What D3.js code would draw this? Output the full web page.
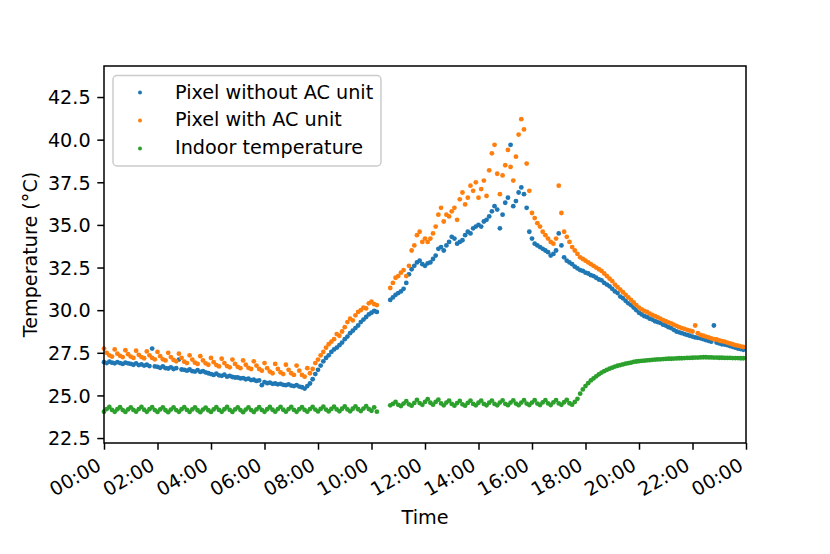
<!DOCTYPE html>
<html>
<head>
<meta charset="utf-8">
<script src="https://cdn.jsdelivr.net/npm/d3@7"></script>
<style>
  body { margin: 0; background: #fff; }
  svg { display: block; font-family: "DejaVu Sans", sans-serif; }
</style>
</head>
<body>
<svg width="830" height="554"></svg>
<script>
// sample times: one reading every 6 minutes (0.1 h) through the day
var stepHours = 0.1;

var hourTicks = [0, 2, 4, 6, 8, 10, 12, 14, 16, 18, 20, 22, 24];
var tickLabels = ["00:00", "02:00", "04:00", "06:00", "08:00", "10:00", "12:00",
                  "14:00", "16:00", "18:00", "20:00", "22:00", "00:00"];
var tempTicks = [22.5, 25.0, 27.5, 30.0, 32.5, 35.0, 37.5, 40.0, 42.5];

var seriesNames = ["Pixel without AC unit", "Pixel with AC unit", "Indoor temperature"];
var seriesColors = ["#1f77b4", "#ff7f0e", "#2ca02c"];

var withoutAC = [
  26.95, 26.90, 26.98, 26.92, 26.88, 26.95, 26.90, 26.85, 26.92, 26.88,
  26.85, 26.80, 26.88, 26.78, 26.82, 26.75, 26.80, 26.72, 27.75, 26.70,
  26.68, 26.62, 26.70, 26.60, 26.58, 26.65, 26.55, 26.60, 27.10, 26.52,
  26.50, 26.45, 26.52, 26.42, 26.40, 26.48, 26.38, 26.42, 26.35, 26.30,
  26.25, 26.20, 26.28, 26.18, 26.15, 26.22, 26.10, 26.15, 26.08, 26.05,
  26.05, 26.00, 26.02, 25.95, 25.98, 25.90, 25.92, 25.85, 25.88, 25.60,
  25.78, 25.72, 25.75, 25.68, 25.70, 25.65, 25.68, 25.62, 25.60, 25.65,
  25.58, 25.55, 25.60, 25.52, 25.48, 25.40, 25.55, 25.70, 25.95, 26.25,
  26.50, 26.75, 27.00, 27.20, 27.35, 27.55, 27.70, 27.80, 27.95, 28.10,
  28.30, 28.45, 28.65, 28.80, 28.95, 29.10, 29.30, 29.45, 29.60, 29.75,
  29.85, 29.95, 29.90, null, null, null, null, 30.60, 30.75, 30.90,
  31.00, 31.10, 31.25, 31.60, 32.10, 32.40, 32.60, 32.80, 32.90, 32.70,
  32.60, 32.75, 32.80, 33.00, 33.20, 33.60, 33.70, 33.50, 33.80, 34.00,
  34.30, 34.20, 33.90, 34.00, 34.10, 34.40, 34.60, 34.50, 34.80, 34.90,
  35.00, 34.90, 35.20, 35.30, 35.50, 35.80, 36.10, 35.90, 34.80, 35.60,
  36.30, 36.60, 39.70, 36.10, 36.40, 36.90, 37.20, 36.80, 36.00, 34.60,
  34.20, 33.90, 33.80, 33.70, 33.60, 33.50, 33.40, 33.20, 33.30, 33.50,
  34.50, 33.80, 33.10, 32.90, 32.80, 32.70, 32.55, 32.45, 32.35, 32.30,
  32.20, 32.15, 32.05, 32.00, 31.90, 31.80, 31.75, 31.60, 31.50, 31.40,
  31.25, 31.10, 31.00, 30.80, 30.70, 30.55, 30.40, 30.30, 30.15, 30.00,
  29.85, 29.75, 29.65, 29.60, 29.50, 29.45, 29.35, 29.30, 29.25, 29.15,
  29.10, 29.00, 28.95, 28.85, 28.75, 28.70, 28.65, 28.60, 28.55, 28.50,
  28.45, 28.40, 28.38, 28.35, 28.30, 28.25, 28.20, 28.15, 29.10, 28.10,
  28.05, 28.00, 27.98, 27.95, 27.90, 27.85, 27.80, 27.75, 27.72, 27.68
];

var withAC = [
  27.75, 27.50, 27.35, 27.28, 27.70, 27.45, 27.32, 27.25, 27.65, 27.42,
  27.28, 27.20, 27.62, 27.38, 27.25, 27.18, 27.58, 27.35, 27.20, 27.12,
  27.55, 27.30, 27.12, 27.05, 27.50, 27.25, 27.08, 27.00, 27.45, 27.20,
  26.98, 26.90, 27.35, 27.10, 26.92, 26.85, 27.30, 27.05, 26.88, 26.80,
  27.20, 26.95, 26.78, 26.70, 27.15, 26.90, 26.72, 26.65, 27.10, 26.85,
  26.68, 26.60, 27.05, 26.80, 26.62, 26.55, 27.00, 26.75, 26.55, 26.45,
  26.90, 26.60, 26.40, 26.30, 26.85, 26.55, 26.35, 26.25, 26.80, 26.50,
  26.30, 26.20, 26.75, 26.45, 26.20, 26.10, 26.60, 26.30, 26.55, 26.90,
  27.10, 27.35, 27.55, 27.80, 28.00, 28.15, 28.30, 28.60, 28.50, 28.75,
  29.00, 29.30, 29.50, 29.40, 29.70, 29.90, 30.00, 30.15, 30.10, 30.40,
  30.50, 30.35, 30.30, null, null, null, null, 31.30, 31.60, 31.90,
  32.00, 32.20, 32.35, 32.00, 32.60, 33.50, 33.80, 34.40, 34.60, 34.00,
  34.20, 34.00, 34.20, 34.50, 34.90, 35.60, 36.00, 35.20, 35.60, 35.50,
  35.80, 36.00, 35.30, 36.50, 36.90, 36.20, 36.60, 37.30, 37.00, 37.50,
  36.60, 37.10, 37.60, 36.70, 38.20, 39.20, 39.70, 38.00, 36.80, 37.90,
  38.50, 39.40, 38.40, 37.60, 39.00, 40.30, 41.20, 40.60, 38.60, 37.00,
  35.70, 35.40, 35.10, 34.90, 34.60, 34.40, 34.20, 34.00, 33.90, 34.20,
  37.30, 35.70, 34.60, 34.30, 34.00, 33.70, 33.50, 33.30, 33.10, 33.00,
  32.90, 32.80, 32.70, 32.60, 32.50, 32.40, 32.30, 32.15, 32.00, 31.85,
  31.70, 31.50, 31.35, 31.20, 31.05, 30.90, 30.75, 30.60, 30.45, 30.30,
  30.15, 30.05, 29.95, 29.90, 29.80, 29.72, 29.65, 29.58, 29.50, 29.42,
  29.35, 29.28, 29.22, 29.15, 29.08, 29.00, 28.95, 28.90, 28.85, 28.80,
  28.75, 29.10, 28.65, 28.55, 28.50, 28.45, 28.40, 28.35, 28.30, 28.28,
  28.22, 28.18, 28.15, 28.10, 28.05, 28.00, 27.95, 27.92, 27.88, 27.84
];

var indoor = [
  24.05, 24.20, 24.32, 24.15, 24.04, 24.19, 24.31, 24.14, 24.03, 24.18,
  24.30, 24.15, 24.05, 24.20, 24.33, 24.16, 24.04, 24.19, 24.31, 24.14,
  24.03, 24.18, 24.30, 24.13, 24.02, 24.17, 24.30, 24.14, 24.04, 24.19,
  24.31, 24.15, 24.03, 24.18, 24.30, 24.13, 24.02, 24.17, 24.29, 24.13,
  24.03, 24.18, 24.31, 24.15, 24.04, 24.19, 24.32, 24.15, 24.03, 24.18,
  24.30, 24.14, 24.02, 24.17, 24.30, 24.14, 24.03, 24.18, 24.31, 24.15,
  24.04, 24.19, 24.32, 24.16, 24.05, 24.20, 24.33, 24.16, 24.05, 24.20,
  24.32, 24.15, 24.04, 24.19, 24.31, 24.15, 24.05, 24.20, 24.33, 24.17,
  24.06, 24.21, 24.34, 24.17, 24.06, 24.21, 24.34, 24.18, 24.07, 24.22,
  24.35, 24.18, 24.07, 24.22, 24.36, 24.19, 24.08, 24.23, 24.37, 24.20,
  24.10, 24.30, 24.05, null, null, null, null, 24.42, 24.50, 24.62,
  24.45, 24.38, 24.52, 24.66, 24.48, 24.40, 24.56, 24.74, 24.55, 24.45,
  24.62, 24.78, 24.57, 24.46, 24.62, 24.75, 24.53, 24.42, 24.58, 24.70,
  24.50, 24.40, 24.55, 24.68, 24.48, 24.40, 24.56, 24.70, 24.50, 24.42,
  24.57, 24.70, 24.50, 24.42, 24.57, 24.70, 24.50, 24.42, 24.58, 24.71,
  24.51, 24.43, 24.58, 24.71, 24.52, 24.43, 24.58, 24.72, 24.52, 24.44,
  24.58, 24.72, 24.52, 24.44, 24.59, 24.72, 24.53, 24.44, 24.59, 24.73,
  24.53, 24.45, 24.60, 24.74, 24.54, 24.46, 24.62, 24.80, 25.10, 25.35,
  25.55, 25.72, 25.88, 26.00, 26.12, 26.24, 26.34, 26.42, 26.50, 26.57,
  26.63, 26.69, 26.74, 26.78, 26.82, 26.86, 26.89, 26.92, 26.97, 26.99,
  27.01, 27.03, 27.04, 27.06, 27.07, 27.09, 27.10, 27.11, 27.12, 27.13,
  27.14, 27.15, 27.15, 27.16, 27.17, 27.18, 27.18, 27.19, 27.20, 27.20,
  27.21, 27.22, 27.22, 27.23, 27.24, 27.24, 27.23, 27.23, 27.22, 27.22,
  27.21, 27.21, 27.20, 27.20, 27.20, 27.19, 27.19, 27.19, 27.18, 27.18
];

var svg = d3.select("svg"),
    margin = {top: 66, right: 84, bottom: 111, left: 104},
    width = +svg.attr("width") - margin.left - margin.right,
    height = +svg.attr("height") - margin.top - margin.bottom,
    fontSize = 19.2,
    tickLen = 6.7,
    dotR = 2.4;

var x = d3.scaleLinear().domain([0, 24]).range([0, width]),
    y = d3.scaleLinear().domain([22.21, 44.32]).range([height, 0]);

var g = svg.append("g")
    .attr("transform", "translate(" + margin.left + "," + margin.top + ")");

// scatter points, drawn in legend order so orange sits on blue
[withoutAC, withAC, indoor].forEach(function(values, k) {
  var pts = values.map(function(v, i) { return {t: i * stepHours, v: v}; })
                  .filter(function(d) { return d.v !== null; });
  g.append("g").selectAll("circle")
    .data(pts)
    .enter().append("circle")
      .attr("cx", function(d) { return x(d.t); })
      .attr("cy", function(d) { return y(d.v); })
      .attr("r", dotR)
      .attr("fill", seriesColors[k]);
});

// axes
var xAxis = g.append("g")
    .attr("transform", "translate(0," + height + ")")
    .call(d3.axisBottom(x).tickValues(hourTicks)
      .tickFormat(function(d, i) { return tickLabels[i]; })
      .tickSize(tickLen).tickSizeOuter(0));

xAxis.selectAll("text")
    .attr("y", 0).attr("dy", null)
    .attr("text-anchor", "end")
    .attr("transform", "translate(-2,26) rotate(-30)");

var yAxis = g.append("g")
    .call(d3.axisLeft(y).tickValues(tempTicks).tickFormat(d3.format(".1f"))
      .tickSize(tickLen).tickPadding(6.7).tickSizeOuter(0));

yAxis.selectAll("text").attr("dy", "0.35em");

[xAxis, yAxis].forEach(function(a) {
  a.attr("font-size", fontSize).attr("font-family", "DejaVu Sans, sans-serif");
  a.select(".domain").remove();
  a.selectAll(".tick line").attr("stroke", "#000").attr("stroke-width", 1.5);
  a.selectAll(".tick text").attr("fill", "#000");
});

// frame
g.append("rect")
    .attr("width", width).attr("height", height)
    .attr("fill", "none").attr("stroke", "#000").attr("stroke-width", 1.5);

// axis labels
g.append("text")
    .attr("x", width / 2).attr("y", 458)
    .attr("text-anchor", "middle")
    .attr("font-size", fontSize)
    .text("Time");

g.append("text")
    .attr("transform", "translate(" + (37 - margin.left) + "," + (height / 2) + ") rotate(-90)")
    .attr("text-anchor", "middle")
    .attr("font-size", fontSize)
    .text("Temperature (°C)");

// legend
var legend = g.append("g").attr("transform", "translate(9,9.5)");

legend.append("rect")
    .attr("width", 268).attr("height", 90.5).attr("rx", 4)
    .attr("fill", "#fff").attr("fill-opacity", 0.8)
    .attr("stroke", "#cccccc").attr("stroke-width", 1.5);

seriesNames.forEach(function(name, i) {
  legend.append("circle")
      .attr("cx", 27).attr("cy", 17 + i * 28)
      .attr("r", 2).attr("fill", seriesColors[i]);
  legend.append("text")
      .attr("x", 62).attr("y", 23 + i * 27.8)
      .attr("font-size", fontSize)
      .text(name);
});
</script>
</body>
</html>
